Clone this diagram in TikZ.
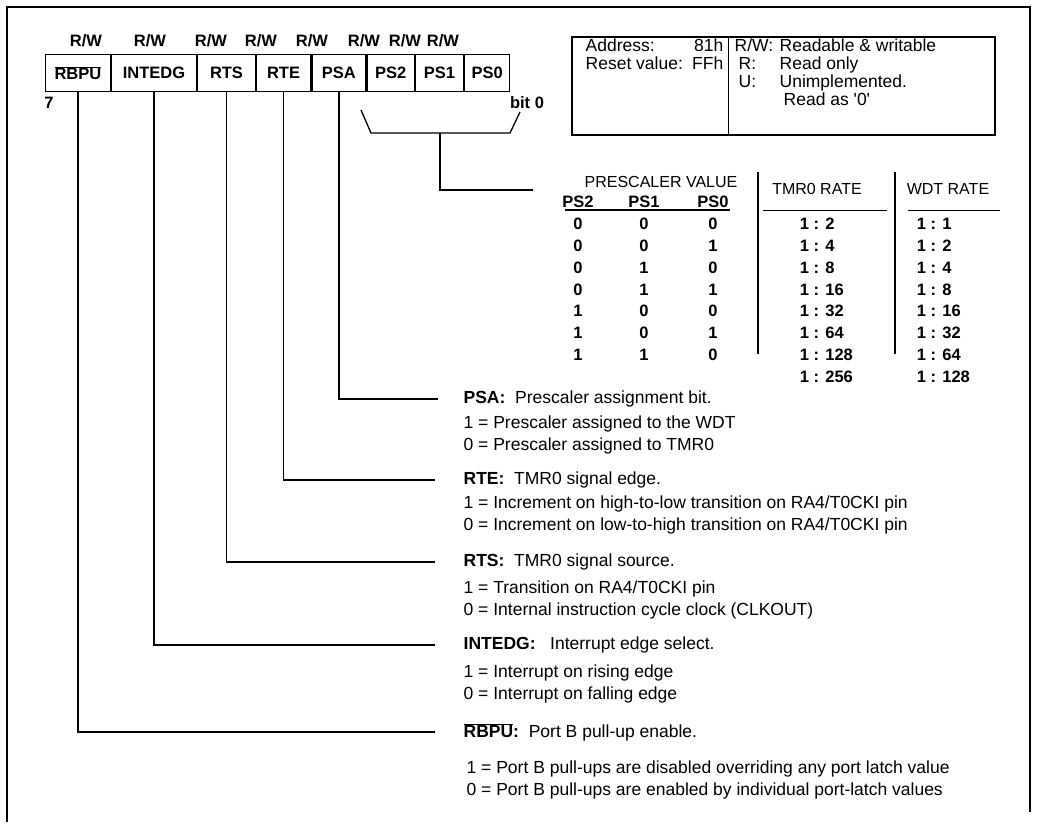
\documentclass[tikz,border=0pt]{standalone}
\usepackage{fontspec}
\setmainfont{Liberation Sans}
\usetikzlibrary{positioning}

\begin{document}
\begin{tikzpicture}[
		x=1pt, y=-1pt,
		font=\fontsize{17.5}{22}\selectfont,
		line width=1.3pt,
		bitcell/.style={draw, minimum height=37, inner sep=0pt,
			font=\fontsize{16.5}{18}\selectfont\bfseries},
		rw/.style={font=\fontsize{16.5}{18}\selectfont\bfseries},
		hd/.style={anchor=west, inner sep=0pt},
		lg/.style={anchor=base west, inner sep=0pt},
		desc/.style={anchor=west, align=left, inner sep=0pt},
		tab/.style={font=\fontsize{16}{18}\selectfont},
		val/.style={font=\fontsize{16.5}{18}\selectfont\bfseries},
		thinline/.style={line width=0.8pt},
	]
		\useasboundingbox (0,0) rectangle (1037,825);

		% Rahmen (unten offen)
		\draw (7,822) -- (7,7) -- (1030,7) -- (1030,812);

		% Registerzellen
		\node[bitcell, minimum width=64.5, anchor=north west] (rbpu) at (45,54)
			{$\overline{\mbox{RBPU}}$};
		\node[bitcell, minimum width=85, right=0pt of rbpu] (intedg) {INTEDG};
		\node[bitcell, minimum width=57.5, right=0pt of intedg] (rts) {RTS};
		\node[bitcell, minimum width=54, right=0pt of rts] (rte) {RTE};
		\node[bitcell, minimum width=54, right=0pt of rte] (psa) {PSA};
		\node[bitcell, minimum width=47, right=0pt of psa] (pstwo) {PS2};
		\node[bitcell, minimum width=48, right=0pt of pstwo] (psone) {PS1};
		\node[bitcell, minimum width=45, right=0pt of psone] (pszero) {PS0};

		\foreach \x in {86,150,211,261,312,364,405,443}
			\node[rw] (rw\x) at (\x,41) {R/W};
		\node[rw] (bitseven) at (49,103) {7};
		\node[rw] (bitzero) at (527,103) {bit 0};

		% Legende
		\node[draw, minimum width=423, minimum height=98, inner sep=0pt] (legend) at (783.5,86) {};
		\draw (legend.north west) ++(157,0) -- ++(0,98);
		\node[lg] (addr) at (585,51) {Address:};
		\node[anchor=base east, inner sep=0pt] (addrval) at (724,51) {81h};
		\node[lg] (reset) at (585,69) {Reset value:};
		\node[anchor=base east, inner sep=0pt] (resetval) at (724,69) {FFh};
		\node[lg] (keyrw) at (734,51) {R/W:};
		\node[lg] (txtrw) at (779,51) {Readable \& writable};
		\node[lg] (keyr) at (738,69) {R:};
		\node[lg] (txtr) at (779,69) {Read only};
		\node[lg] (keyu) at (738,87) {U:};
		\node[lg] (txtu) at (779,87) {Unimplemented.};
		\node[lg] (txtzero) at (783,105) {Read as \textquotesingle0\textquotesingle};

		% Klammer ueber PS2..PS0 und Zuleitung zur Tabelle
		\draw (361,110) -- (371,133) -- (510,133) -- (520,112);
		\coordinate (brace) at (440,133);
		\coordinate (tabin) at (533,190);
		\draw (brace) |- (tabin);

		% Vorteiler-Tabelle
		\node[tab] (presc) at (661,182) {PRESCALER VALUE};
		\node[tab] (tmrhd) at (817,189) {TMR0 RATE};
		\node[tab] (wdthd) at (948,189) {WDT RATE};
		\node[val] (hpstwo) at (578,202) {PS2};
		\node[val] (hpsone) at (644,202) {PS1};
		\node[val] (hpszero) at (713,202) {PS0};
		\draw (565,210) -- (730,210);
		\draw[thinline] (763,210) -- (887,210);
		\draw[thinline] (908,210) -- (1000,210);
		\draw (758,172) -- (758,354);
		\draw (895,172) -- (895,354);
		\foreach \a/\b/\c/\t/\w [count=\i from 0] in
			{0/0/0/2/1, 0/0/1/4/2, 0/1/0/8/4, 0/1/1/16/8,
			 1/0/0/32/16, 1/0/1/64/32, 1/1/0/128/64} {
			\node[val] (pa\i) at (578,224+21.8*\i) {\a};
			\node[val] (pb\i) at (644,224+21.8*\i) {\b};
			\node[val] (pc\i) at (713,224+21.8*\i) {\c};
			\node[val, anchor=west] (tr\i) at (796,224+21.8*\i) {1 : \t};
			\node[val, anchor=west] (wr\i) at (913,224+21.8*\i) {1 : \w};
		}
		\node[val, anchor=west] (trlast) at (796,377) {1 : 256};
		\node[val, anchor=west] (wrlast) at (913,377) {1 : 128};

		% Bitbeschreibungen
		\node[hd] (psahd) at (463,399) {\textbf{PSA:}\ \ Prescaler assignment bit.};
		\node[desc] (psatx) at (463,435)
			{1 = Prescaler assigned to the WDT\\0 = Prescaler assigned to TMR0};
		\node[hd] (rtehd) at (463,480) {\textbf{RTE:}\ \ TMR0 signal edge.};
		\node[desc] (rtetx) at (463,515)
			{1 = Increment on high-to-low transition on RA4/T0CKI pin\\
			 0 = Increment on low-to-high transition on RA4/T0CKI pin};
		\node[hd] (rtshd) at (463,562) {\textbf{RTS:}\ \ TMR0 signal source.};
		\node[desc] (rtstx) at (463,600)
			{1 = Transition on RA4/T0CKI pin\\0 = Internal instruction cycle clock (CLKOUT)};
		\node[hd] (intedghd) at (463,645) {\textbf{INTEDG:}\ \ \ Interrupt edge select.};
		\node[desc] (intedgtx) at (463,684)
			{1 = Interrupt on rising edge\\0 = Interrupt on falling edge};
		\node[hd] (rbpuhd) at (463,732)
			{$\overline{\mbox{\textbf{RBPU}}}$\textbf{:}\ \ Port B pull-up enable.};
		\node[desc] (rbputx) at (466,780)
			{1 = Port B pull-ups are disabled overriding any port latch value\\
			 0 = Port B pull-ups are enabled by individual port-latch values};

		% Verbindungen Bit -> Beschreibung
		\draw (psa.south) |- ([xshift=-25]psahd.west);
		\draw (rte.south) |- ([xshift=-28]rtehd.west);
		\draw (rts.south) |- ([xshift=-28]rtshd.west);
		\draw (intedg.south) |- ([xshift=-28]intedghd.west);
		\draw (rbpu.south) |- ([xshift=-28]rbpuhd.west);
	\end{tikzpicture}
\end{document}
